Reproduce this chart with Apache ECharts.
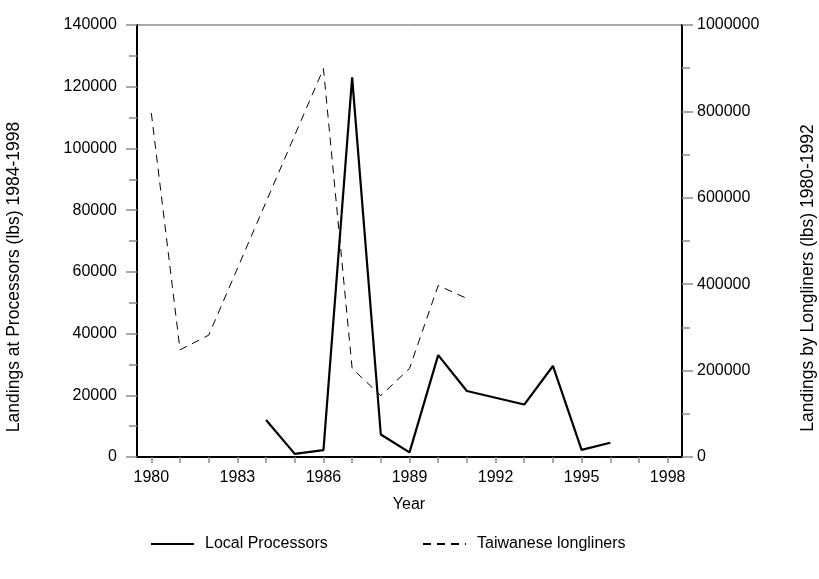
<!DOCTYPE html>
<html>
<head>
<meta charset="utf-8">
<script src="https://cdn.jsdelivr.net/npm/echarts@6/dist/echarts.min.js"></script>
<style>
html,body{margin:0;padding:0;background:#fff;}
#chart{width:819px;height:579px;}
</style>
</head>
<body>
<div id="chart"></div>
<script>
var years = ['1980','1981','1982','1983','1984','1985','1986','1987','1988','1989','1990','1991','1992','1993','1994','1995','1996','1997','1998'];
var localProcessors = [null,null,null,null,12000,1000,2200,123000,7300,1500,33000,21400,null,17000,29500,2300,4600,null,null];
var taiwaneseLongliners = [796000,248000,282000,null,null,null,899000,205000,142000,205000,397000,367000,null,null,null,null,null,null,null];
var leftTicks = {min:0,max:140000,interval:20000};
var rightTicks = {min:0,max:1000000,interval:200000};

var FONT = '"Liberation Sans",Arial,sans-serif';
var FS = 16;
var FT = 17.5;
var chart = echarts.init(document.getElementById('chart'), null, {renderer:'canvas'});
var gray = '#8c8c8c';
function plain(v){ return String(v); }
chart.setOption({
  animation:false,
  backgroundColor:'#fff',
  textStyle:{fontFamily:FONT},
  grid:{left:137,right:137,top:25,bottom:122,show:true,borderColor:'#555',borderWidth:1,backgroundColor:'transparent'},
  legend:[{
    left:145, top:531, itemWidth:43, itemHeight:14,
    data:['Local Processors'],
    itemStyle:{color:'transparent',borderColor:'transparent',borderWidth:0},
    textStyle:{fontFamily:FONT,fontSize:FS,color:'#000',padding:[0,0,0,6]},
    selectedMode:false
  },{
    left:417, top:531, itemWidth:43, itemHeight:14,
    data:['Taiwanese longliners'],
    itemStyle:{color:'transparent',borderColor:'transparent',borderWidth:0},
    textStyle:{fontFamily:FONT,fontSize:FS,color:'#000',padding:[0,0,0,6]},
    selectedMode:false
  }],
  xAxis:{
    type:'category', data:years, boundaryGap:true,
    axisLine:{lineStyle:{color:'#000',width:2}},
    axisTick:{show:true,alignWithLabel:true,interval:0,length:6,lineStyle:{color:gray,width:1.5}},
    axisLabel:{interval:2,margin:13,color:'#000',fontSize:FS,fontFamily:FONT},
    splitLine:{show:false}
  },
  yAxis:[{
    type:'value', min:leftTicks.min, max:leftTicks.max, interval:leftTicks.interval, position:'left',
    axisLine:{show:true,lineStyle:{color:'#000',width:2}},
    axisTick:{show:true,length:11,lineStyle:{color:gray,width:1.5}},
    minorTick:{show:true,splitNumber:2,length:8,lineStyle:{color:gray,width:1.5}},
    axisLabel:{margin:20,color:'#000',fontSize:FS,fontFamily:FONT,formatter:plain},
    splitLine:{show:false}
  },{
    type:'value', min:rightTicks.min, max:rightTicks.max, interval:rightTicks.interval, position:'right',
    axisLine:{show:true,lineStyle:{color:'#000',width:2}},
    axisTick:{show:true,length:11,lineStyle:{color:gray,width:1.5}},
    minorTick:{show:true,splitNumber:2,length:8,lineStyle:{color:gray,width:1.5}},
    axisLabel:{margin:15,color:'#000',fontSize:FS,fontFamily:FONT,formatter:plain},
    splitLine:{show:false}
  }],
  graphic:[
    {type:'text',x:14,y:277,rotation:Math.PI/2,style:{text:'Landings at Processors (lbs) 1984-1998',fill:'#000',font:FT+'px '+FONT,textAlign:'center',textVerticalAlign:'middle'}},
    {type:'text',x:808,y:278,rotation:Math.PI/2,style:{text:'Landings by Longliners (lbs) 1980-1992',fill:'#000',font:FT+'px '+FONT,textAlign:'center',textVerticalAlign:'middle'}},
    {type:'text',x:409,y:505,style:{text:'Year',fill:'#000',font:FS+'px '+FONT,textAlign:'center',textVerticalAlign:'middle'}}
  ],
  series:[{
    name:'Local Processors', type:'line', yAxisIndex:0, data:localProcessors,
    connectNulls:true, symbol:'none',
    lineStyle:{color:'#000',width:2.2,type:'solid'}, itemStyle:{color:'#000'}
  },{
    name:'Taiwanese longliners', type:'line', yAxisIndex:1, data:taiwaneseLongliners,
    connectNulls:true, symbol:'none',
    lineStyle:{color:'#000',width:1,type:[8,6]}, itemStyle:{color:'#000'}
  }]
});
</script>
</body>
</html>
